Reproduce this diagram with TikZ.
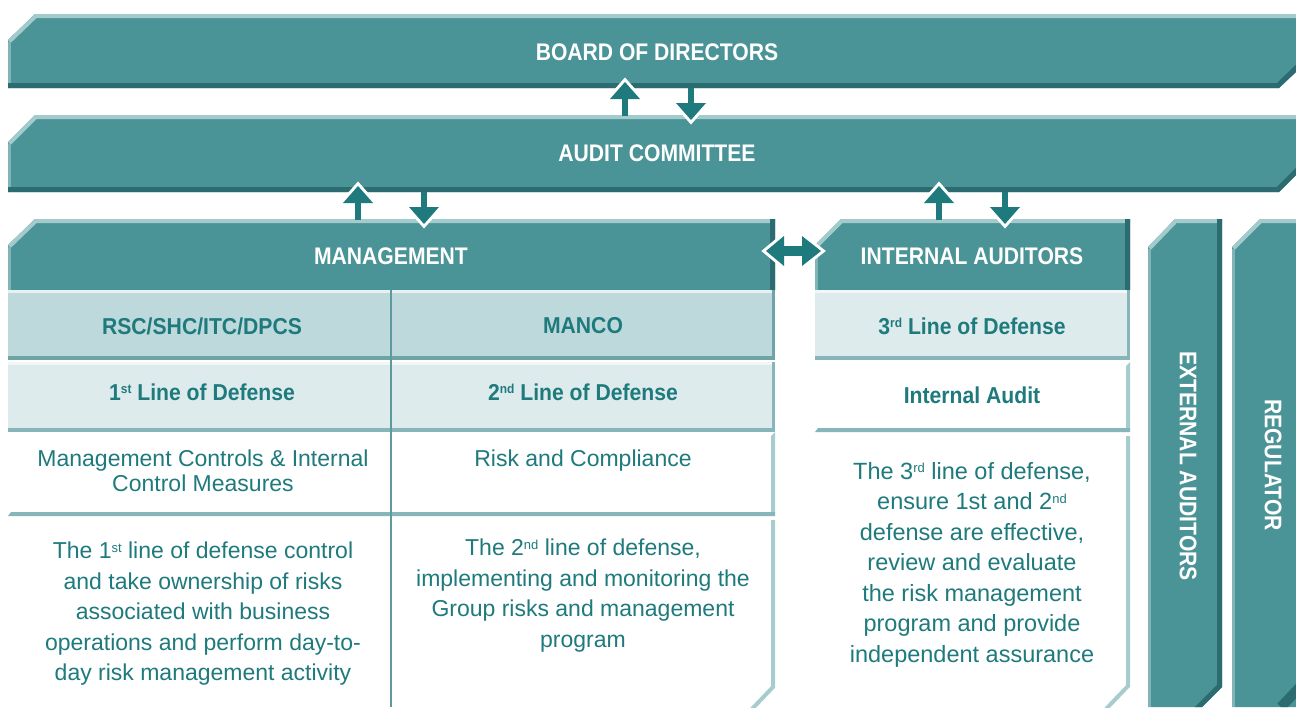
\documentclass[tikz,border=0pt]{standalone}
\usepackage{fontspec}
\setmainfont{Liberation Sans}
\newfontfamily\hfont[FakeStretch=0.88]{Liberation Sans}
\newfontfamily\sfont[FakeStretch=0.92]{Liberation Sans}
\definecolor{barfill}{HTML}{4A9498}
\definecolor{bardark}{HTML}{2C6C70}
\definecolor{barlight}{HTML}{A3CBCC}
\definecolor{barside}{HTML}{80B4B6}
\definecolor{arrowc}{HTML}{1E7A7C}
\definecolor{tealtext}{HTML}{1E7A7C}
\definecolor{rowone}{HTML}{BDD9DB}
\definecolor{rowtwo}{HTML}{DDEBEC}
\definecolor{rowdark}{HTML}{6FA4A7}
\definecolor{rowmid}{HTML}{86B6B9}
\definecolor{rowedge}{HTML}{A6CCCE}
\definecolor{divider}{HTML}{5C9A9D}
\newcommand\upsc[1]{\raisebox{6.5pt}{\fontsize{13}{13}\selectfont #1}}
\newcommand\bevelshape[3]{%
  \fill[barfill] #1;
  \begin{scope}
    \clip #1;
    \draw[barlight, line width=8pt, line join=miter] #2;
    \draw[bardark, line width=10pt, line join=miter] #3;
  \end{scope}}
\newcommand\uparr[3]{% x, tip y, shaft end y
  \draw[white, line width=6pt, line join=miter] (#1-15,#2+17) -- (#1,#2) -- (#1+15,#2+17) -- cycle;
  \fill[arrowc] (#1-15,#2+17) -- (#1,#2) -- (#1+15,#2+17) -- cycle;
  \fill[arrowc] (#1-2.6,#2+16) rectangle (#1+2.6,#3);}
\newcommand\dnarr[3]{% x, shaft start y, tip y
  \draw[white, line width=6pt, line join=miter] (#1-15,#3-17) -- (#1,#3) -- (#1+15,#3-17) -- cycle;
  \fill[arrowc] (#1-15,#3-17) -- (#1,#3) -- (#1+15,#3-17) -- cycle;
  \fill[arrowc] (#1-2.6,#2) rectangle (#1+2.6,#3-16);}
\begin{document}
\begin{tikzpicture}[x=1pt,y=-1pt,
  hdr/.style={text=white, inner sep=0pt, font=\hfont\bfseries\fontsize{24}{28}\selectfont},
  sub/.style={text=tealtext, inner sep=0pt, font=\sfont\bfseries\fontsize{23}{27}\selectfont},
  body/.style={text=tealtext, inner sep=0pt, align=center, font=\fontsize{23}{30.5}\selectfont},
  bodytight/.style={text=tealtext, inner sep=0pt, align=center, font=\fontsize{23}{25}\selectfont},
  bodywide/.style={text=tealtext, inner sep=0pt, align=center, font=\fontsize{23.5}{30.5}\selectfont},
  side/.style={barside, line width=3pt}]
\useasboundingbox (0,0) rectangle (1296,707);
\fill[white] (0,0) rectangle (1296,707);

% ---- bars ----
\bevelshape{(8,40)--(35,14)--(1296,14)--(1296,72)--(1279,88)--(8,88)--cycle}
  {(8,40)--(35,14)--(1310,14)}{(1312,56)--(1279,88)--(0,88)}
\draw[side] (9.5,42)--(9.5,83);
\bevelshape{(8,142)--(35,115)--(1296,115)--(1296,175)--(1279,192)--(8,192)--cycle}
  {(8,142)--(35,115)--(1310,115)}{(1312,159)--(1279,192)--(0,192)}
\draw[side] (9.5,144)--(9.5,187);
% management header
\bevelshape{(8,245)--(35,219)--(775,219)--(775,290)--(8,290)--cycle}
  {(8,245)--(35,219)--(785,219)}{(775,210)--(775,300)}
\draw[side] (9.5,247)--(9.5,290);
% internal auditors header
\bevelshape{(815,245)--(841,219)--(1130,219)--(1130,290)--(815,290)--cycle}
  {(815,245)--(841,219)--(1140,219)}{(1130,210)--(1130,300)}
\draw[side] (816.5,247)--(816.5,290);
% external auditors column
\bevelshape{(1148,247)--(1175,219)--(1222,219)--(1222,687)--(1202,707)--(1148,707)--cycle}
  {(1148,247)--(1175,219)--(1230,219)}{(1222,210)--(1222,687)--(1195,714)}
\draw[side] (1149.5,249)--(1149.5,707);
% regulator column
\bevelshape{(1232,247)--(1260,219)--(1296,219)--(1296,707)--(1232,707)--cycle}
  {(1232,247)--(1260,219)--(1310,219)}{(1316,670)--(1281,707)}
\draw[side] (1233.5,249)--(1233.5,707);

% ---- management table ----
\fill[rowone] (8,290) rectangle (775,360);
\fill[rowtwo!70!white] (8,290) rectangle (775,292.5);
\fill[rowdark] (8,355.5) rectangle (775,360);
\fill[rowdark] (771.5,290) rectangle (775,360);
\fill[rowtwo] (8,362) rectangle (775,432);
\fill[white!60!rowtwo] (8,362) rectangle (775,364.5);
\fill[rowmid] (8,427.5) rectangle (775,432);
\fill[rowmid] (771.5,362) rectangle (775,432);
\fill[rowedge] (771,436)--(775,432)--(775,512)--(771,512)--cycle;
\fill[rowmid] (11,512)--(775,512)--(775,516)--(8,516)--cycle;
\begin{scope}
  \clip (0,0) rectangle (1296,707);
  \draw[rowedge, line width=4pt, line join=miter] (773,520)--(773,687)--(752,709);
  \draw[rowedge, line width=4pt, line join=miter] (1128,436)--(1128,686)--(1106,709);
\end{scope}
\draw[divider, line width=2.5pt] (391,290)--(391,707);

% ---- internal auditors table ----
\fill[rowtwo] (815,290) rectangle (1130,360);
\fill[white!60!rowtwo] (815,290) rectangle (1130,292.5);
\fill[rowmid] (815,355.5) rectangle (1130,360);
\fill[rowmid] (1126.5,290) rectangle (1130,360);
\fill[rowedge] (1126,366)--(1130,362)--(1130,428)--(1126,428)--cycle;
\fill[rowmid] (818,428)--(1130,428)--(1130,432)--(815,432)--cycle;

% ---- arrows ----
\uparr{625}{82}{115.5}
\dnarr{691}{87.5}{120}
\uparr{358}{186}{219.5}
\dnarr{424}{191.5}{224}
\uparr{939}{186}{219.5}
\dnarr{1005}{191.5}{224}
% double arrow
\draw[white, line width=6pt, line join=miter] (784,236)--(766,251)--(784,266)--cycle;
\draw[white, line width=6pt, line join=miter] (802,236)--(821,251)--(802,266)--cycle;
\fill[arrowc] (784,236)--(766,251)--(784,266)--cycle;
\fill[arrowc] (802,236)--(821,251)--(802,266)--cycle;
\fill[arrowc] (783,246) rectangle (803,256);

% ---- texts ----
\node[hdr] (board) at (657,52) {BOARD OF DIRECTORS};
\node[hdr] (audit) at (657,153) {AUDIT COMMITTEE};
\node[hdr] (mgmt) at (391,256) {MANAGEMENT};
\node[hdr] (iaud) at (972,256) {INTERNAL AUDITORS};
\node[hdr, rotate=-90] (ext) at (1188,466) {EXTERNAL AUDITORS};
\node[hdr, rotate=-90] (reg) at (1273,465) {REGULATOR};

\node[sub] (rsc) at (202,326) {RSC/SHC/ITC/DPCS};
\node[sub] (manco) at (583,326) {MANCO};
\node[sub] (lone) at (202,392) {1\upsc{st} Line of Defense};
\node[sub] (ltwo) at (583,392) {2\upsc{nd} Line of Defense};
\node[sub] (lthree) at (972,326) {3\upsc{rd} Line of Defense};
\node[sub] (ia) at (972,395) {Internal Audit};

\node[bodytight] (mc) at (203,470.5) {Management Controls \& Internal\\Control Measures};
\node[body] (rc) at (583,461) {Risk and Compliance};
\node[body] (pone) at (203,614) {The 1\upsc{st} line of defense control\\and take ownership of risks\\associated with business\\operations and perform day-to-\\day risk management activity};
\node[body] (ptwo) at (583,595.5) {The 2\upsc{nd} line of defense,\\implementing and monitoring the\\Group risks and management\\program};
\node[bodywide] (pthree) at (972,564.5) {The 3\upsc{rd} line of defense,\\ensure 1st and 2\upsc{nd}\\defense are effective,\\review and evaluate\\the risk management\\program and provide\\independent assurance};
\end{tikzpicture}
\end{document}
